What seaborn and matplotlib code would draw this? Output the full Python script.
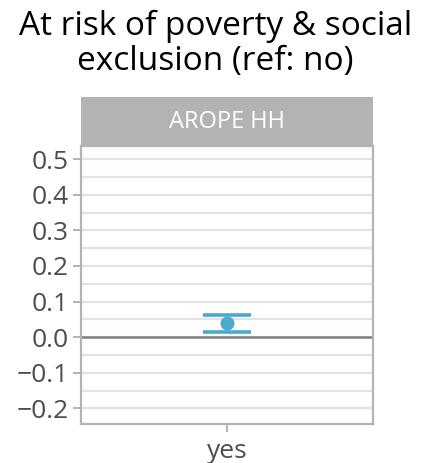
import matplotlib
matplotlib.use("Agg")
import matplotlib.pyplot as plt
from matplotlib.ticker import MultipleLocator, FixedLocator
import seaborn as sns
import pandas as pd

# Model coefficient for the AROPE household indicator (reference level: no)
categories = ["yes"]
estimates = [0.039]
lower = [0.015]
upper = [0.062]
panel_label = "AROPE HH"
title = "At risk of poverty & social\nexclusion (ref: no)"
y_ticks = [-0.2, -0.1, 0.0, 0.1, 0.2, 0.3, 0.4, 0.5]

df = pd.DataFrame({"level": categories, "estimate": estimates,
                   "lower": lower, "upper": upper})

sns.set_theme(style="white")
plt.rcParams["font.family"] = ["Open Sans", "DejaVu Sans"]

point_color = "#4ba8cf"
grid_color = "#e3e3e3"
frame_color = "#b3b3b3"
text_color = "#4d4d4d"

fig = plt.figure(figsize=(4.31, 4.63), dpi=100)
ax = fig.add_axes([81 / 431, 1 - 424 / 463, 292 / 431, (424 - 146) / 463])

ax.set_ylim(-0.244, 0.537)

# grid: major and minor horizontal lines, one vertical line per category
ax.yaxis.set_major_locator(FixedLocator(y_ticks))
ax.yaxis.set_minor_locator(MultipleLocator(0.05))
ax.grid(True, which="major", axis="both", color=grid_color, linewidth=1.6, zorder=0)
ax.grid(True, which="minor", axis="y", color=grid_color, linewidth=1.6, zorder=0)
ax.set_axisbelow(True)

ax.axhline(0, color="#808080", linewidth=1.8, zorder=1)

sns.pointplot(data=df, x="level", y="estimate", color=point_color,
              errorbar=None, markers="o", markersize=8, linestyle="none",
              ax=ax, zorder=3)
ax.errorbar(x=[0], y=df["estimate"],
            yerr=[df["estimate"] - df["lower"], df["upper"] - df["estimate"]],
            fmt="none", ecolor=point_color, elinewidth=0, capsize=17,
            capthick=2.6, zorder=2)
ax.set_xlim(-0.5, 0.5)

ax.set_xlabel("")
ax.set_ylabel("")
for s in ax.spines.values():
    s.set_visible(True)
    s.set_color(frame_color)
    s.set_linewidth(1.6)

ax.tick_params(axis="both", which="major", length=6, width=1.4, color=frame_color,
               labelsize=19, labelcolor=text_color, left=True, bottom=True, pad=3)
ax.tick_params(axis="x", which="major", labelsize=19, pad=5)
ax.tick_params(axis="y", which="minor", length=0)
ax.set_yticklabels([f"{t:.1f}".replace("-", "\u2212") for t in y_ticks])

# facet strip
strip = fig.add_axes([81 / 431, 1 - 146 / 463, 292 / 431, (146 - 97) / 463])
strip.set_facecolor("#b3b3b3")
strip.set_xticks([])
strip.set_yticks([])
for s in strip.spines.values():
    s.set_visible(False)
strip.text(0.5, 0.5, panel_label, ha="center", va="center", color="white",
           fontsize=17, transform=strip.transAxes)

fig.text(0.5, 1 - 44 / 463, title, ha="center", va="center", fontsize=24,
         color="black", linespacing=1.05)

fig.savefig("out.png", dpi=100)
